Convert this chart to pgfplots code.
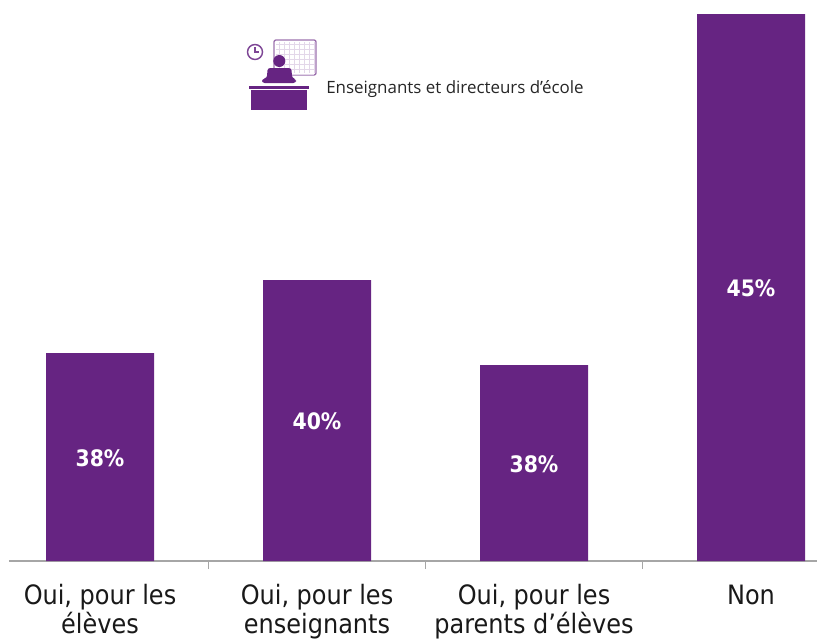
\documentclass[border=0pt]{standalone}
\usepackage{fontspec}
\setmainfont{DejaVu Sans Condensed}
\newfontfamily\smallfont{Open Sans}
\usepackage{pgfplots}
\pgfplotsset{compat=1.18}
\definecolor{barpurple}{HTML}{662482}
\definecolor{axgray}{HTML}{A6A6A6}
\begin{document}
\begin{tikzpicture}
\path[use as bounding box] (0pt,0pt) rectangle (612.75pt,-479.25pt);
\begin{axis}[
  at={(6.75pt,-420.75pt)}, anchor=south west,
  scale only axis, width=606pt, height=410.25pt,
  xmin=-0.4194, xmax=3.3041, ymin=0, ymax=547,
  axis x line=bottom, axis y line=none,
  axis line style={draw=axgray,line width=0.8pt,-},
  x axis line style={-},
  xtick={0,1,2,3},
  xticklabels={{Oui, pour les\\élèves},{Oui, pour les\\enseignants},{Oui, pour les\\parents d’élèves},{Non}},
  minor xtick={0.5,1.5,2.5},
  major tick length=0pt, minor tick length=6pt,
  tick align=outside, tick style={draw=axgray,line width=0.8pt},
  x tick label style={font=\fontsize{20}{21.8}\selectfont, align=center, anchor=north, yshift=-14.2pt, text=black!90},
  ybar, bar width=81pt, clip=false,
  /pgf/number format/assume math mode=true,
  ]
  \addplot[fill=barpurple, draw=none,
    point meta=explicit,
    visualization depends on=y \as \rawy,
    nodes near coords={\pgfmathprintnumber[assume math mode=true]{\pgfplotspointmeta}\%},
    every node near coord/.append style={anchor=center, text=white, font=\fontsize{17}{20}\selectfont\bfseries,
      shift={(axis direction cs:0,-\rawy/2)}, yshift=-0.8pt},
  ] table[x=x,y=y,meta=pct]{
    x y pct
    0 208 38
    1 281 40
    2 196 38
    3 547 45
  };
\end{axis}
\begin{scope}[x=0.75pt,y=-0.75pt]
\draw[draw=barpurple!65,line width=1pt,rounded corners=1.5pt,fill=white] (274,40) rectangle (316,75);
\foreach \gx in {279,284,...,314} \draw[barpurple!18,line width=.5pt] (\gx,42)--(\gx,73);
\foreach \gy in {44,49,...,74} \draw[barpurple!18,line width=.5pt] (276,\gy)--(314,\gy);
\draw[barpurple!85,line width=1.1pt,fill=white] (255,52) circle[radius=7.5];
\draw[barpurple!85,line width=.8pt] (255,47)--(255,52)--(259,52);
\fill[barpurple] (279.3,61) circle[radius=6];
\fill[barpurple,rounded corners=2pt] (267.5,68) -- (291.5,68) -- (292,78) -- (296,79) -- (296,83) -- (262,83) -- (262,79) -- (267,78) -- cycle;
\fill[barpurple] (249,86) rectangle (309,89);
\fill[barpurple] (251,90) rectangle (307,110);
\node[anchor=base west,inner sep=0pt,font=\smallfont\fontsize{12.7}{14}\selectfont,text=black!85] at (326,93) {Enseignants et directeurs d’école};
\end{scope}
\end{tikzpicture}
\end{document}
